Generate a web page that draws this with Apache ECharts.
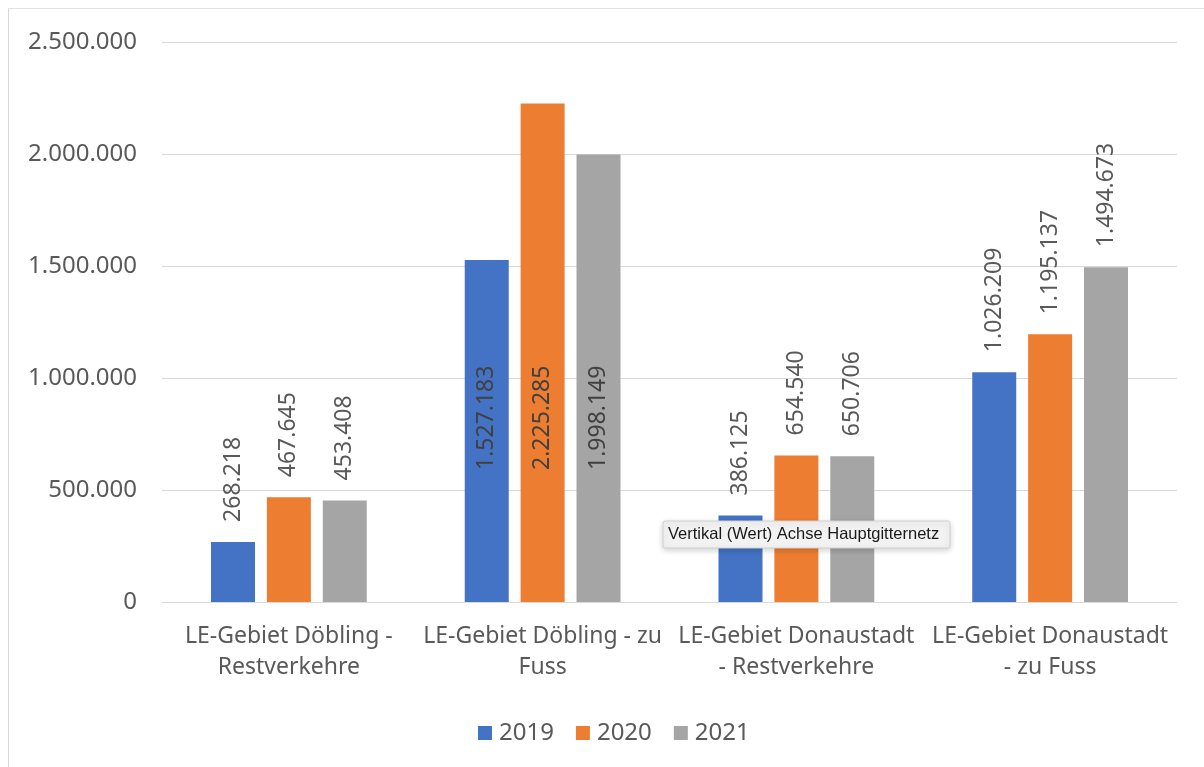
<!DOCTYPE html>
<html>
<head>
<meta charset="utf-8">
<style>
  html, body { margin: 0; padding: 0; background: #ffffff; }
  #chart { width: 1204px; height: 767px; }
</style>
<script src="https://cdn.jsdelivr.net/npm/echarts@6/dist/echarts.min.js"></script>
</head>
<body>
<div id="chart"></div>
<script>
const categories = [
  'LE-Gebiet Döbling -\nRestverkehre',
  'LE-Gebiet Döbling - zu\nFuss',
  'LE-Gebiet Donaustadt\n- Restverkehre',
  'LE-Gebiet Donaustadt\n- zu Fuss'
];
const seriesNames = ['2019', '2020', '2021'];
const values2019 = [268218, 1527183, 386125, 1026209];
const values2020 = [467645, 2225285, 654540, 1195137];
const values2021 = [453408, 1998149, 650706, 1494673];
const yTicks = [0, 500000, 1000000, 1500000, 2000000, 2500000];
const insideLabelCategories = [1];

const colors = ['#4472C4', '#ED7D31', '#A5A5A5'];
const FONT = 'Noto Sans';
const TEXT = '#595959';

function fmt(v) {
  return String(Math.round(v)).replace(/\B(?=(\d{3})+(?!\d))/g, '.');
}

function buildData(vals) {
  return vals.map((v, i) => {
    if (insideLabelCategories.indexOf(i) >= 0) {
      return {
        value: v,
        label: { position: 'insideBottom', distance: 132, color: '#404040' }
      };
    }
    return v;
  });
}

const allValues = [values2019, values2020, values2021];
const series = seriesNames.map((name, k) => ({
  name: name,
  type: 'bar',
  data: buildData(allValues[k]),
  barWidth: 44,
  barGap: '27%',
  itemStyle: { color: colors[k] },
  label: {
    show: true,
    position: 'top',
    distance: 20,
    rotate: 90,
    align: 'left',
    verticalAlign: 'middle',
    fontFamily: FONT,
    fontSize: 23,
    color: TEXT,
    formatter: p => fmt(p.value)
  },
  emphasis: { disabled: true }
}));

const chart = echarts.init(document.getElementById('chart'), null, { renderer: 'canvas' });
chart.setOption({
  animation: false,
  backgroundColor: '#ffffff',
  textStyle: { fontFamily: FONT },
  grid: { left: 162, right: 27, top: 42, bottom: 165, containLabel: false },
  legend: {
    data: seriesNames,
    left: 473,
    top: 716,
    icon: 'rect',
    itemWidth: 14,
    itemHeight: 14,
    itemGap: 22,
    textStyle: { fontFamily: FONT, fontSize: 24, color: TEXT, padding: [0, 0, 0, 2] }
  },
  xAxis: {
    type: 'category',
    data: categories,
    axisLine: { show: true, lineStyle: { color: '#d9d9d9', width: 1 } },
    axisTick: { show: false },
    axisLabel: {
      interval: 0,
      margin: 19,
      fontFamily: FONT,
      fontSize: 23,
      lineHeight: 31,
      color: TEXT,
      align: 'center'
    }
  },
  yAxis: {
    type: 'value',
    min: yTicks[0],
    max: yTicks[yTicks.length - 1],
    interval: yTicks[1] - yTicks[0],
    axisLine: { show: false },
    axisTick: { show: false },
    splitLine: { lineStyle: { color: '#d9d9d9', width: 1 } },
    axisLabel: {
      margin: 25,
      fontFamily: FONT,
      fontSize: 24,
      color: TEXT,
      formatter: v => fmt(v)
    }
  },
  series: series,
  graphic: [
    { type: 'line', shape: { x1: 8.5, y1: 8, x2: 8.5, y2: 767 }, style: { stroke: '#d9d9d9', lineWidth: 1 }, silent: true },
    { type: 'line', shape: { x1: 8, y1: 8.5, x2: 1204, y2: 8.5 }, style: { stroke: '#e3e3e3', lineWidth: 1 }, silent: true },
    {
      type: 'rect',
      z: 100,
      zlevel: 1,
      shape: { x: 663, y: 521, width: 287, height: 27, r: 2 },
      style: { fill: '#f2f2f2', stroke: '#d0d0d0', lineWidth: 1, shadowBlur: 6, shadowColor: 'rgba(0,0,0,0.18)', shadowOffsetY: 2 }
    },
    {
      type: 'text',
      z: 101,
      zlevel: 1,
      x: 668,
      y: 534.5,
      style: { text: 'Vertikal (Wert) Achse Hauptgitternetz', font: '16.5px "Liberation Sans", Arial, sans-serif', fill: '#1a1a1a', verticalAlign: 'middle' }
    }
  ]
});
</script>
</body>
</html>
